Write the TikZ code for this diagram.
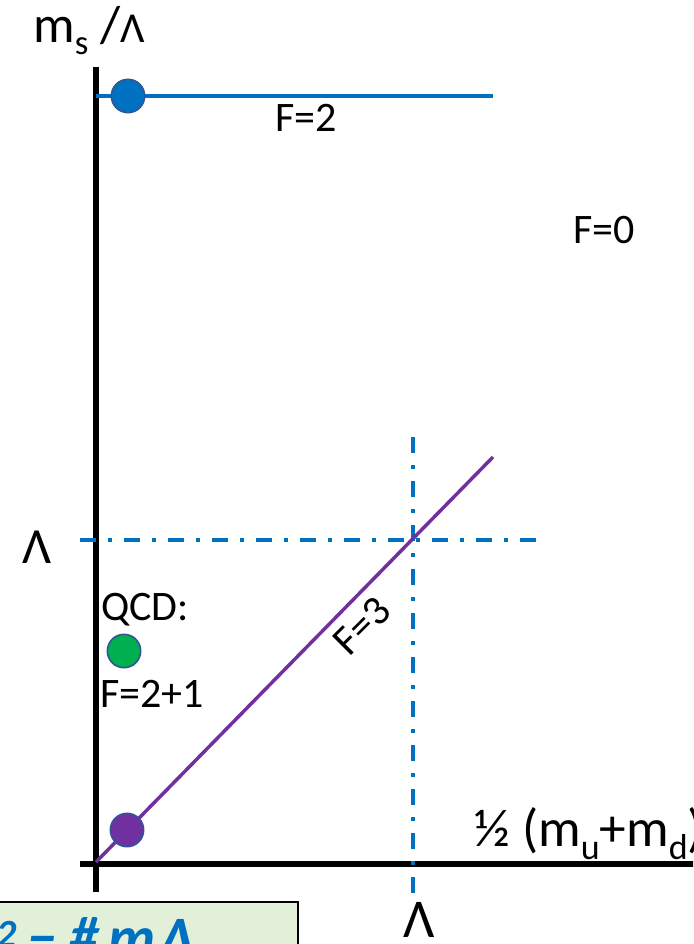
\documentclass[tikz,border=0pt]{standalone}
\usepackage{fontspec}
\setmainfont{Carlito}
\definecolor{lineblue}{HTML}{0070C0}
\definecolor{dotborder}{HTML}{2F5597}
\definecolor{qcdgreen}{HTML}{00B050}
\definecolor{linepurple}{HTML}{7030A0}
\definecolor{boxgreen}{HTML}{E2F0D9}
\tikzset{
  dot/.style={circle, draw=dotborder, line width=1.2pt, minimum size=25pt, inner sep=0pt},
  axisline/.style={line width=4.5pt, black},
  dashdotline/.style={line width=3pt, lineblue, dash pattern=on 12pt off 9pt on 3pt off 9pt},
  lbl/.style={inner sep=0pt, font=\fontsize{31.5}{36}\selectfont},
}
\begin{document}
\begin{tikzpicture}[x=0.75pt,y=-0.75pt]
\useasboundingbox (0,0) rectangle (693,944);
\begin{scope}
\clip (0,0) rectangle (693,944);
% axes
\coordinate (ytop) at (96,67);
\coordinate (ybot) at (96,892);
\coordinate (xleft) at (80,864);
\coordinate (xright) at (700,864);
\draw[axisline] (ytop) -- (ybot);
\draw[axisline] (xleft) -- (xright);
% F=2 line
\coordinate (f2a) at (96,96);
\coordinate (f2b) at (493,96);
\draw[lineblue, line width=3pt] (f2a) -- (f2b);
% dash-dot lines
\coordinate (hda) at (80,540);
\coordinate (hdb) at (537,540);
\coordinate (vda) at (413,437);
\coordinate (vdb) at (413,895);
\draw[dashdotline] (hda) -- (hdb);
\draw[dashdotline] (vda) -- (vdb);
% F=3 line
\coordinate (f3a) at (96,862);
\coordinate (f3b) at (493,457);
\draw[linepurple, line width=2.6pt] (f3a) -- (f3b);
% dots
\node[dot, fill=lineblue] (bdot) at (128,96) {};
\node[dot, fill=qcdgreen] (gdot) at (124,651) {};
\node[dot, fill=linepurple] (pdot) at (127,830) {};
% labels
\node[lbl, anchor=base] (lf2) at (306,132) {F=2};
\node[lbl, anchor=base] (lf0) at (604,244) {F=0};
\node[lbl, anchor=base west] (lqcd) at (101,620) {QCD:};
\node[lbl, anchor=base west] (lf21) at (100,707) {F=2+1};
\node[lbl, rotate=45] (lf3) at (362,626) {F=3};
\node[inner sep=0pt, anchor=base, font=\fontsize{38}{40}\selectfont] (lamL) at (37,563) {Λ};
\node[inner sep=0pt, anchor=base, font=\fontsize{41}{44}\selectfont] (lamB) at (419,937) {Λ};
\node[inner sep=0pt, anchor=base west, font=\fontsize{39}{42}\selectfont] (ylab) at (33,43) {m\raisebox{-9pt}{\fontsize{26}{26}\selectfont s} /{\fontsize{32}{34}\selectfont Λ}};
\node[inner sep=0pt, anchor=base west, font=\fontsize{40}{44}\selectfont] (xlab) at (474,846) {½ (m\raisebox{-10pt}{\fontsize{27}{27}\selectfont u}+m\raisebox{-10pt}{\fontsize{27}{27}\selectfont d})};
% bottom box
\coordinate (boxa) at (-10,902);
\coordinate (boxb) at (298,990);
\draw[black, line width=1.8pt, fill=boxgreen] (boxa) rectangle (boxb);
\node[inner sep=0pt, anchor=base west, text=lineblue, font=\fontsize{44}{46}\selectfont\bfseries\itshape] (boxtxt) at (-4,957) {\raisebox{7.5pt}{\fontsize{30}{30}\selectfont 2}\hspace{8pt}−\hspace{10pt}\#\hspace{7pt}m\hspace{3pt}Λ};
\end{scope}
\end{tikzpicture}
\end{document}
